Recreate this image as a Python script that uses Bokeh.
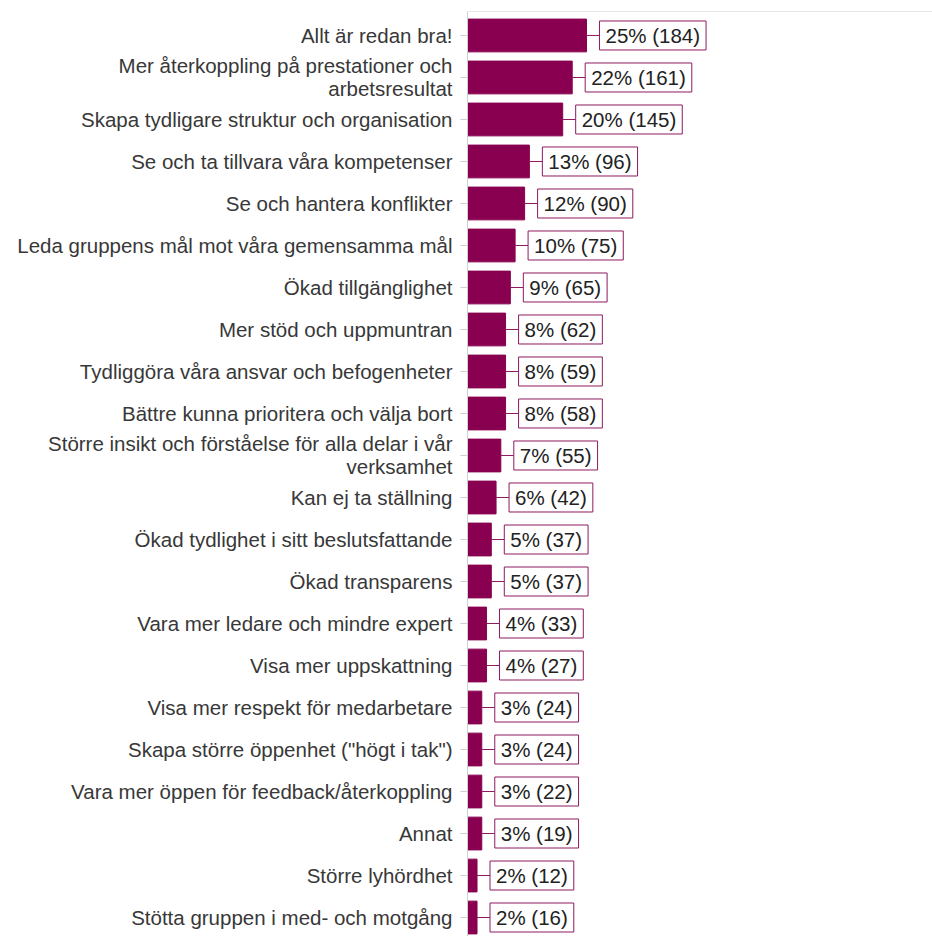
from bokeh.plotting import figure
from bokeh.models import Range1d, FixedTicker, ColumnDataSource, Span
from bokeh.core.properties import value
from bokeh.embed import file_html
from bokeh.resources import INLINE

categories = [
    "Allt är redan bra!",
    "Mer återkoppling på prestationer och\narbetsresultat",
    "Skapa tydligare struktur och organisation",
    "Se och ta tillvara våra kompetenser",
    "Se och hantera konflikter",
    "Leda gruppens mål mot våra gemensamma mål",
    "Ökad tillgänglighet",
    "Mer stöd och uppmuntran",
    "Tydliggöra våra ansvar och befogenheter",
    "Bättre kunna prioritera och välja bort",
    "Större insikt och förståelse för alla delar i vår\nverksamhet",
    "Kan ej ta ställning",
    "Ökad tydlighet i sitt beslutsfattande",
    "Ökad transparens",
    "Vara mer ledare och mindre expert",
    "Visa mer uppskattning",
    "Visa mer respekt för medarbetare",
    "Skapa större öppenhet (\"högt i tak\")",
    "Vara mer öppen för feedback/återkoppling",
    "Annat",
    "Större lyhördhet",
    "Stötta gruppen i med- och motgång",
]
percents = [25, 22, 20, 13, 12, 10, 9, 8, 8, 8, 7, 6, 5, 5, 4, 4, 3, 3, 3, 3, 2, 2]
counts = [184, 161, 145, 96, 90, 75, 65, 62, 59, 58, 55, 42, 37, 37, 33, 27, 24, 24, 22, 19, 12, 16]

BAR = "#88004F"
BOX = "#8E1A60"
GRID = "#cfcfcf"
FONT = "Liberation Sans"

idx = list(range(len(categories)))
gap = 2.73
src = ColumnDataSource(dict(
    y=idx,
    pct=percents,
    end=[p + gap for p in percents],
    label=[f"{p}% ({c})" for p, c in zip(percents, counts)],
))

p = figure(width=932, height=936, output_backend="svg", toolbar_location=None,
           x_range=Range1d(0, 97.7), y_range=Range1d(21.452, -0.571),
           min_border_left=467, min_border_top=11, min_border_right=0, min_border_bottom=0)
p.outline_line_color = None
p.xaxis.visible = False
p.xgrid.visible = False
p.ygrid.visible = False

p.hbar(y="y", left=0, right="pct", height=0.78, color=BAR, source=src)
p.segment(x0="pct", y0="y", x1="end", y1="y", line_color=BOX, line_width=1, source=src)

p.text(x="end", y="y", text="label", source=src, text_align="left",
       text_baseline="middle", text_font=value(FONT), text_font_size="20.5px",
       text_color="#222222", background_fill_color="white",
       border_line_color=BOX, border_line_width=1, padding=(6, 3))

p.add_layout(Span(location=-0.571, dimension="width", line_color=GRID, line_width=1))

ax = p.yaxis[0]
ax.ticker = FixedTicker(ticks=idx)
ax.major_label_overrides = {i: c for i, c in zip(idx, categories)}
ax.major_label_text_font = FONT
ax.major_label_text_font_size = "20.5px"
ax.major_label_text_color = "#383838"
ax.major_label_text_line_height = 1.0
ax.axis_line_color = GRID
ax.major_tick_line_color = GRID
ax.major_tick_out = 7
ax.major_tick_in = 0
ax.minor_tick_line_color = None
ax.major_label_standoff = 8

open("out.html", "w").write(file_html(p, INLINE))
